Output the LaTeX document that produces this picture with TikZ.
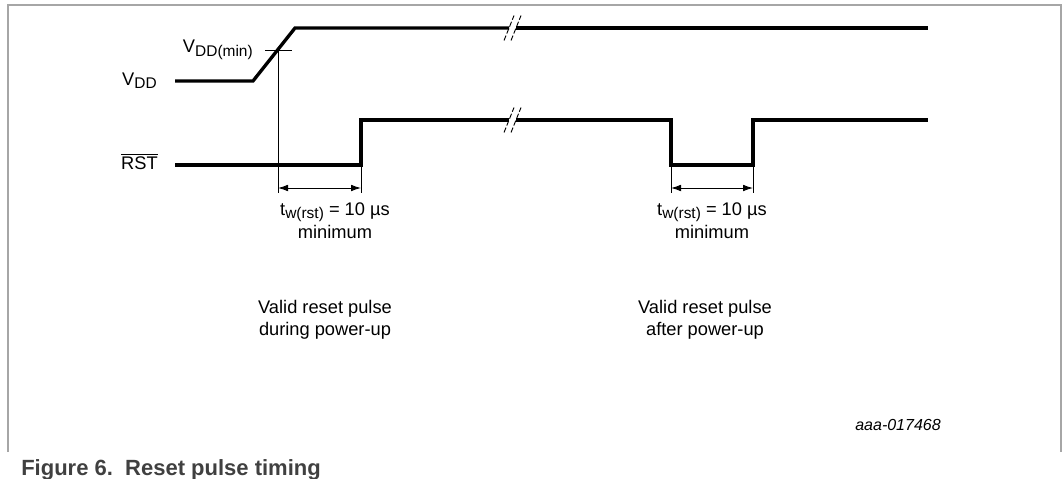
\documentclass[tikz,border=0pt]{standalone}
\usepackage{fontspec}
\setmainfont{Liberation Sans}
\usetikzlibrary{arrows.meta}
\newcommand{\lowtxt}[1]{\raisebox{-0.32ex}{\fontsize{11.6}{11.6}\selectfont #1}}

\begin{document}
\begin{tikzpicture}[x=0.75pt, y=-0.75pt, >={Latex[length=7.5pt,width=5pt]},
    signal/.style={line width=2.5pt, line join=miter},
    guide/.style={line width=0.7pt},
    dimline/.style={<->, line width=0.7pt},
    brk/.style={line width=0.7pt, dash pattern=on 4pt off 1.6pt},
    lbl/.style={font=\fontsize{13.7}{16.5}\selectfont, inner sep=0pt}]
  \def\vlo{81}
  \def\vhi{28}
  \def\rlo{165}
  \def\rhi{120}
  \def\dimy{188}
  \def\tend{928}

  \useasboundingbox (0,0) rectangle (1062,478);
  % frame
  \draw[black!35, line width=1.4pt] (8,452) -- (8,5) -- (1061,5) -- (1061,452);

  % vdd
  \coordinate (v0) at (175,\vlo);
  \coordinate (v1) at (253,\vlo);
  \coordinate (v2) at (295,\vhi);
  \coordinate (v3) at (509,\vhi);
  \coordinate (v4) at (516,\vhi);
  \coordinate (v5) at (\tend,\vhi);
  \draw[signal] (v0) -- (v1) -- (v2) -- (v3);
  \draw[signal] (v4) -- (v5);

  % rst
  \coordinate (r0) at (175,\rlo);
  \coordinate (r1) at (361,\rlo);
  \coordinate (r2) at (361,\rhi);
  \coordinate (r3) at (509,\rhi);
  \coordinate (r4) at (516,\rhi);
  \coordinate (r5) at (671,\rhi);
  \coordinate (r6) at (671,\rlo);
  \coordinate (r7) at (753,\rlo);
  \coordinate (r8) at (753,\rhi);
  \coordinate (r9) at (\tend,\rhi);
  \draw[signal] (r0) -- (r1) -- (r2) -- (r3);
  \draw[signal] (r4) -- (r5) -- (r6) -- (r7) -- (r8) -- (r9);

  % time breaks
  \foreach \y in {\vhi,\rhi} {
    \foreach \x in {509,516} {
      \draw[brk] (\x-5,\y+12.5) -- (\x+5,\y-12.5);
    }
  }

  % threshold
  \coordinate (m0) at (265,50);
  \coordinate (m1) at (292,50);
  \coordinate (m2) at (278,50);
  \coordinate (d0) at (278,193);
  \draw[guide] (m0) -- (m1);
  \draw[guide] (m2) -- (d0);

  % extension lines
  \coordinate (d1) at (361,193);
  \coordinate (d2) at (671,193);
  \coordinate (d3) at (753,193);
  \draw[guide] (r1) -- (d1);
  \draw[guide] (r6) -- (d2);
  \draw[guide] (r7) -- (d3);

  % pulse widths
  \coordinate (a0) at (278,\dimy);
  \coordinate (a1) at (361,\dimy);
  \coordinate (a2) at (671,\dimy);
  \coordinate (a3) at (753,\dimy);
  \draw[dimline] (a0) -- (a1);
  \draw[dimline] (a2) -- (a3);

  % labels
  \node[lbl, anchor=base east] (vddlbl) at (157,85) {V\lowtxt{DD}};
  \node[lbl, anchor=base east] (rstlbl) at (158,169) {\(\overline{\mbox{RST}}\)};
  \node[lbl, anchor=base east] (minlbl) at (253,53) {V\lowtxt{DD(min)}};

  \node[lbl, anchor=base] (tw1) at (335,215) {t\lowtxt{w(rst)} = 10 µs};
  \node[lbl, anchor=base] (mn1) at (335,238) {minimum};
  \node[lbl, anchor=base] (tw2) at (712,215) {t\lowtxt{w(rst)} = 10 µs};
  \node[lbl, anchor=base] (mn2) at (712,238) {minimum};

  \node[lbl, anchor=base] (val1) at (325,313) {Valid reset pulse};
  \node[lbl, anchor=base] (dur1) at (325,335) {during power-up};
  \node[lbl, anchor=base] (val2) at (705,313) {Valid reset pulse};
  \node[lbl, anchor=base] (aft2) at (705,335) {after power-up};

  \node[anchor=base east, inner sep=0pt, font=\fontsize{12}{14}\selectfont\itshape] (code) at (941,430) {aaa-017468};
  \node[anchor=base west, inner sep=0pt, text=black!75, font=\fontsize{16.5}{19}\selectfont\bfseries] (caption) at (21,475) {Figure 6.\ \ Reset pulse timing};
\end{tikzpicture}
\end{document}
